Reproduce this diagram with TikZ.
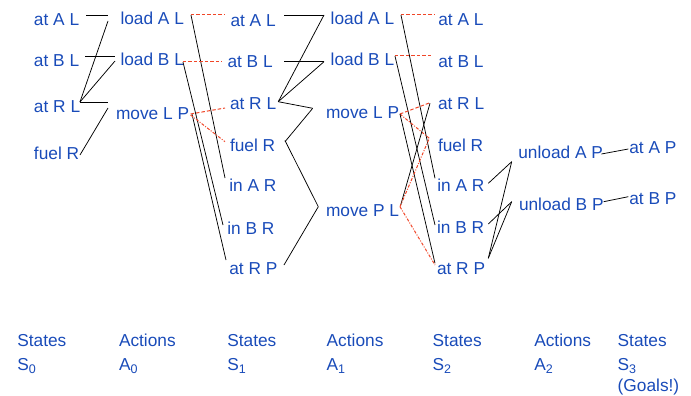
\documentclass[tikz,border=0pt]{standalone}
\usepackage{fontspec}
\setmainfont{Liberation Sans}
\definecolor{lblue}{RGB}{25,75,185}
\definecolor{mred}{RGB}{240,70,40}
\newcommand\sbs[1]{\raisebox{-2.7pt}{\fontsize{12.5}{12.5}\selectfont #1}}
\begin{document}
\begin{tikzpicture}[x=1pt,y=-1pt,
 lbl/.style={anchor=base west,inner sep=0pt,outer sep=0pt,text=lblue,font=\fontsize{17.3}{20}\selectfont},
 link/.style={draw=black,line width=0.75pt},
 del/.style={draw=mred,line width=1pt,dash pattern=on 3.5pt off 2pt},
 deld/.style={draw=mred,line width=1pt,dash pattern=on 3pt off 1.5pt on 1pt off 1.5pt}]
\useasboundingbox (0,0) rectangle (691,396);
% S0
\node[lbl] (s0a) at (34,26) {at A L};
\node[lbl] (s0b) at (34,66.5) {at B L};
\node[lbl] (s0r) at (34,113) {at R L};
\node[lbl] (s0f) at (34,159) {fuel R};
% A0
\node[lbl] (a0a) at (120.5,25) {load A L};
\node[lbl] (a0b) at (120.5,66) {load B L};
\node[lbl] (a0m) at (116,119) {move L P};
% S1
\node[lbl] (s1a) at (230.5,26.5) {at A L};
\node[lbl] (s1b) at (227.5,67.5) {at B L};
\node[lbl] (s1r) at (230,109.5) {at R L};
\node[lbl] (s1f) at (230,151) {fuel R};
\node[lbl] (s1ia) at (229.3,191.7) {in A R};
\node[lbl] (s1ib) at (227.3,234) {in B R};
\node[lbl] (s1p) at (229.3,274.3) {at R P};
% A1
\node[lbl] (a1a) at (330.7,25) {load A L};
\node[lbl] (a1b) at (330.7,66) {load B L};
\node[lbl] (a1m) at (326,118.5) {move L P};
\node[lbl] (a1p) at (326,216.7) {move P L};
% S2
\node[lbl] (s2a) at (438.3,26) {at A L};
\node[lbl] (s2b) at (438.3,67.7) {at B L};
\node[lbl] (s2r) at (438,109.3) {at R L};
\node[lbl] (s2f) at (438,151) {fuel R};
\node[lbl] (s2ia) at (437.3,191.7) {in A R};
\node[lbl] (s2ib) at (437,233.3) {in B R};
\node[lbl] (s2p) at (437,274) {at R P};
% A2
\node[lbl] (a2a) at (518.3,158.3) {unload A P};
\node[lbl] (a2b) at (519,210.7) {unload B P};
% S3
\node[lbl] (s3a) at (629.3,153.3) {at A P};
\node[lbl] (s3b) at (629.3,204.3) {at B P};
% bottom labels
\node[lbl] (t0) at (17.3,346) {States};
\node[lbl] (u0) at (17.3,370.7) {S\sbs{0}};
\node[lbl] (t1) at (119,346) {Actions};
\node[lbl] (u1) at (119,370.7) {A\sbs{0}};
\node[lbl] (t2) at (227.3,346.5) {States};
\node[lbl] (u2) at (227.3,370.7) {S\sbs{1}};
\node[lbl] (t3) at (326.7,346) {Actions};
\node[lbl] (u3) at (326.7,370.7) {A\sbs{1}};
\node[lbl] (t4) at (432.7,346) {States};
\node[lbl] (u4) at (432.7,370.7) {S\sbs{2}};
\node[lbl] (t5) at (534.3,346) {Actions};
\node[lbl] (u5) at (534.3,370.7) {A\sbs{2}};
\node[lbl] (t6) at (617.7,346) {States};
\node[lbl] (u6) at (617.7,370.7) {S\sbs{3}};
\node[lbl] (g6) at (617.7,391.5) {(Goals!)};
% S0 -> A0
\draw[link] ([shift={(6.8,-11)}]s0a.base east) -- ([shift={(-12.5,-10)}]a0a.base west);
\draw[link] ([shift={(5.8,-10.5)}]s0b.base east) -- ([shift={(-5.5,-10)}]a0b.base west);
\draw[link] ([shift={(-0.2,-11)}]s0r.base east) -- ([shift={(-12.5,-4)}]a0a.base west);
\draw[link] ([shift={(-0.2,-11)}]s0r.base east) -- ([shift={(-5.5,-5)}]a0b.base west);
\draw[link] ([shift={(-0.2,-11)}]s0r.base east) -- ([shift={(-8,-17)}]a0m.base west);
\draw[link] ([shift={(0.8,-4)}]s0f.base east) -- ([shift={(-8,-11)}]a0m.base west);
% A0 -> S1
\draw[link] ([shift={(7,-10)}]a0a.base east) -- ([shift={(-4.3,-13.7)}]s1ia.base west);
\draw[del] ([shift={(7,-10)}]a0a.base east) -- ([shift={(-5.5,-11.5)}]s1a.base west);
\draw[link] ([shift={(-1,-4)}]a0b.base east) -- ([shift={(-4.3,-9)}]s1ib.base west);
\draw[del] ([shift={(-1,-4)}]a0b.base east) -- ([shift={(-5.5,-5.5)}]s1b.base west);
\draw[link] ([shift={(2.9,-5)}]a0m.base east) -- ([shift={(-3.3,-14.3)}]s1p.base west);
\draw[del] ([shift={(1.5,-5)}]a0m.base east) -- ([shift={(-5,-1.5)}]s1r.base west);
\draw[deld] ([shift={(1.5,-4)}]a0m.base east) -- ([shift={(-5,-9.3)}]s1f.base west);
% S1 -> A1
\draw[link] ([shift={(8.3,-11.5)}]s1a.base east) -- ([shift={(-6.7,-10)}]a1a.base west);
\draw[link] ([shift={(11.3,-5.8)}]s1b.base east) -- ([shift={(-6.7,-4.3)}]a1b.base west);
\draw[link] ([shift={(2.1,-7.8)}]s1r.base east) -- ([shift={(-6.7,-10)}]a1a.base west);
\draw[link] ([shift={(2.1,-7.8)}]s1r.base east) -- ([shift={(-6.7,-4.3)}]a1b.base west);
\draw[link] ([shift={(2.1,-7.8)}]s1r.base east) -- ([shift={(-13.3,-10.2)}]a1m.base west);
\draw[link] ([shift={(9.8,-9.3)}]s1f.base east) -- ([shift={(-13.3,-10.2)}]a1m.base west);
\draw[link] ([shift={(9.8,-10.5)}]s1f.base east) -- ([shift={(-7.7,-10)}]a1p.base west);
\draw[link] ([shift={(6.6,-9.3)}]s1p.base east) -- ([shift={(-7.7,-10)}]a1p.base west);
% A1 -> S2
\draw[del] ([shift={(6.8,-10)}]a1a.base east) -- ([shift={(-3.3,-11)}]s2a.base west);
\draw[link] ([shift={(6.8,-10)}]a1a.base east) -- ([shift={(-2.3,-13.4)}]s2ia.base west);
\draw[del] ([shift={(0.8,-10)}]a1b.base east) -- ([shift={(-5.3,-11.7)}]s2b.base west);
\draw[link] ([shift={(0.8,-10)}]a1b.base east) -- ([shift={(-2,-8.3)}]s2ib.base west);
\draw[del] ([shift={(0.9,-4.5)}]a1m.base east) -- ([shift={(-8,-6.6)}]s2r.base west);
\draw[deld] ([shift={(0.9,-4.5)}]a1m.base east) -- ([shift={(-8.7,-12.7)}]s2f.base west);
\draw[link] ([shift={(0.9,-4.5)}]a1m.base east) -- ([shift={(-2,-10.7)}]s2p.base west);
\draw[link] ([shift={(1.6,-11.7)}]a1p.base east) -- ([shift={(-8,-6)}]s2r.base west);
\draw[deld] ([shift={(0.9,-10)}]a1p.base east) -- ([shift={(-8.7,-12.7)}]s2f.base west);
\draw[deld] ([shift={(0.9,-10)}]a1p.base east) -- ([shift={(-2,-9)}]s2p.base west);
% S2 -> A2
\draw[link] ([shift={(3.9,-8.4)}]s2ia.base east) -- ([shift={(-6.6,3.4)}]a2a.base west);
\draw[link] ([shift={(3.2,-15.7)}]s2p.base east) -- ([shift={(-6.6,3.4)}]a2a.base west);
\draw[link] ([shift={(3.2,-15.7)}]s2p.base east) -- ([shift={(-7.3,-9)}]a2b.base west);
\draw[link] ([shift={(4.2,-9.3)}]s2ib.base east) -- ([shift={(-7.3,-9)}]a2b.base west);
% A2 -> S3
\draw[link] ([shift={(-1.5,-4.3)}]a2a.base east) -- ([shift={(-1,-4.3)}]s3a.base west);
\draw[link] ([shift={(0,-9)}]a2b.base east) -- ([shift={(-1,-7.6)}]s3b.base west);
\end{tikzpicture}
\end{document}
